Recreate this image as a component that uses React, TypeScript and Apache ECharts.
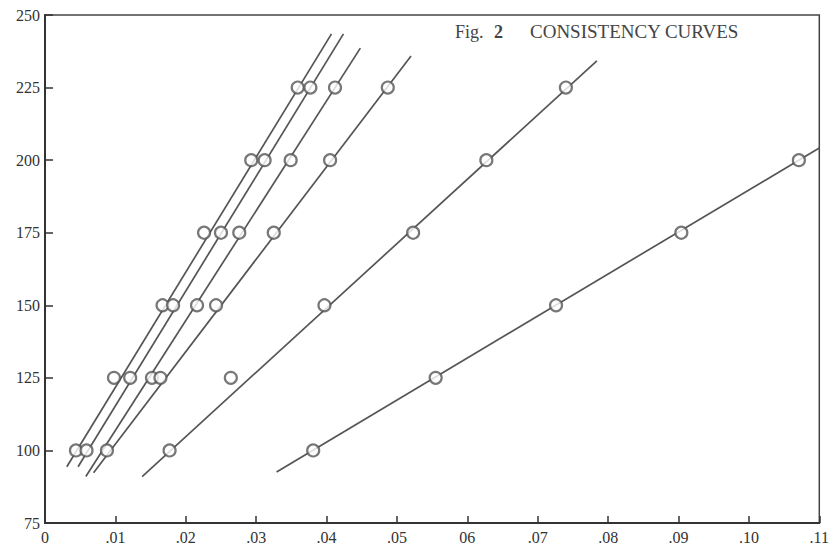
import React, { useEffect, useRef } from "react";
import * as echarts from "echarts";

// Stress levels (y) at which observations were plotted
const yLevels = [100, 125, 150, 175, 200, 225];

// Observed x values for each curve at the y levels above (null = no point)
const curveA = [0.0044, 0.0098, 0.0167, 0.0226, 0.0293, 0.0359];
const curveB = [0.0059, 0.0121, 0.0182, 0.025, 0.0312, 0.0377];
const curveC = [0.0088, 0.0152, 0.0216, 0.0276, 0.0349, 0.0412];
const curveD = [null, 0.0164, 0.0243, 0.0325, 0.0405, 0.0487];
const curveE = [0.0177, 0.0264, 0.0397, 0.0523, 0.0627, 0.074];
const curveF = [0.0381, 0.0555, 0.0726, 0.0904, 0.1071, null];

// Fitted straight lines: [x, y] end points
const fitA = [[0.0031, 94.4], [0.0407, 243.5]];
const fitB = [[0.0047, 94.4], [0.0424, 243.5]];
const fitC = [[0.0058, 91.0], [0.0448, 238.6]];
const fitD = [[0.0069, 92.3], [0.052, 235.9]];
const fitE = [[0.0138, 91.0], [0.0784, 234.2]];
const fitF = [[0.0329, 92.6], [0.11, 204.2]];

const xTickLabels = ["0", ".01", ".02", ".03", ".04", ".05", "06", ".07", ".08", ".09", ".10", ".11"];
const yTickLabels = ["75", "100", "125", "150", "175", "200", "225", "250"];

const titleFig = "Fig.";
const titleNum = "2";
const titleText = "CONSISTENCY CURVES";

const curves = [curveA, curveB, curveC, curveD, curveE, curveF];
const fits = [fitA, fitB, fitC, fitD, fitE, fitF];

export default function App() {
  const ref = useRef<HTMLDivElement>(null);

  useEffect(() => {
    if (!ref.current) return;
    const chart = echarts.init(ref.current, null, { renderer: "svg" });
    const serif = "Liberation Serif";
    const lineColor = "#555";

    const series: any[] = [];
    fits.forEach((f) => {
      series.push({
        type: "line",
        data: f,
        symbol: "none",
        lineStyle: { color: lineColor, width: 1.7 },
        z: 2,
      });
    });
    curves.forEach((c) => {
      const pts = c
        .map((x, j) => (x === null ? null : [x, yLevels[j]]))
        .filter((p) => p !== null);
      series.push({
        type: "scatter",
        data: pts,
        symbol: "circle",
        symbolSize: 12,
        itemStyle: { color: "#ffffff", borderColor: "#555", borderWidth: 2.2 },
        z: 3,
      });
    });

    chart.setOption({
      animation: false,
      backgroundColor: "#ffffff",
      grid: {
        left: 45,
        right: 8,
        top: 15,
        bottom: 32,
        show: true,
        borderColor: "#444",
        borderWidth: 1.5,
        containLabel: false,
      },
      xAxis: {
        type: "value",
        min: 0,
        max: 0.11,
        interval: 0.01,
        axisLine: { show: true, onZero: false, lineStyle: { color: "#333", width: 2 } },
        axisTick: { show: true, inside: true, length: 7, lineStyle: { color: "#333", width: 1.5 } },
        splitLine: { show: false },
        axisLabel: {
          color: "#333",
          fontFamily: serif,
          fontSize: 16,
          margin: 6,
          formatter: (v: number) => xTickLabels[Math.round(v * 100)] ?? "",
        },
      },
      yAxis: {
        type: "value",
        min: 75,
        max: 250,
        interval: 25,
        axisLine: { show: true, onZero: false, lineStyle: { color: "#333", width: 2 } },
        axisTick: { show: true, inside: true, length: 8, lineStyle: { color: "#333", width: 1.5 } },
        splitLine: { show: false },
        axisLabel: {
          color: "#333",
          fontFamily: serif,
          fontSize: 16,
          margin: 5,
          formatter: (v: number) => yTickLabels[Math.round((v - 75) / 25)] ?? "",
        },
      },
      graphic: [
        {
          type: "text",
          left: 455,
          top: 23,
          style: { text: titleFig, font: `18px "${serif}"`, fill: "#444" },
        },
        {
          type: "text",
          left: 494,
          top: 23,
          style: { text: titleNum, font: `bold 18px "${serif}"`, fill: "#444" },
        },
        {
          type: "text",
          left: 530,
          top: 22,
          style: { text: titleText, font: `19px "${serif}"`, fill: "#444" },
        },
      ],
      series,
    });

    return () => chart.dispose();
  }, []);

  return (
    <div
      ref={ref}
      style={{ position: "fixed", left: 0, top: 0, width: 832, height: 555, background: "#fff" }}
    />
  );
}
